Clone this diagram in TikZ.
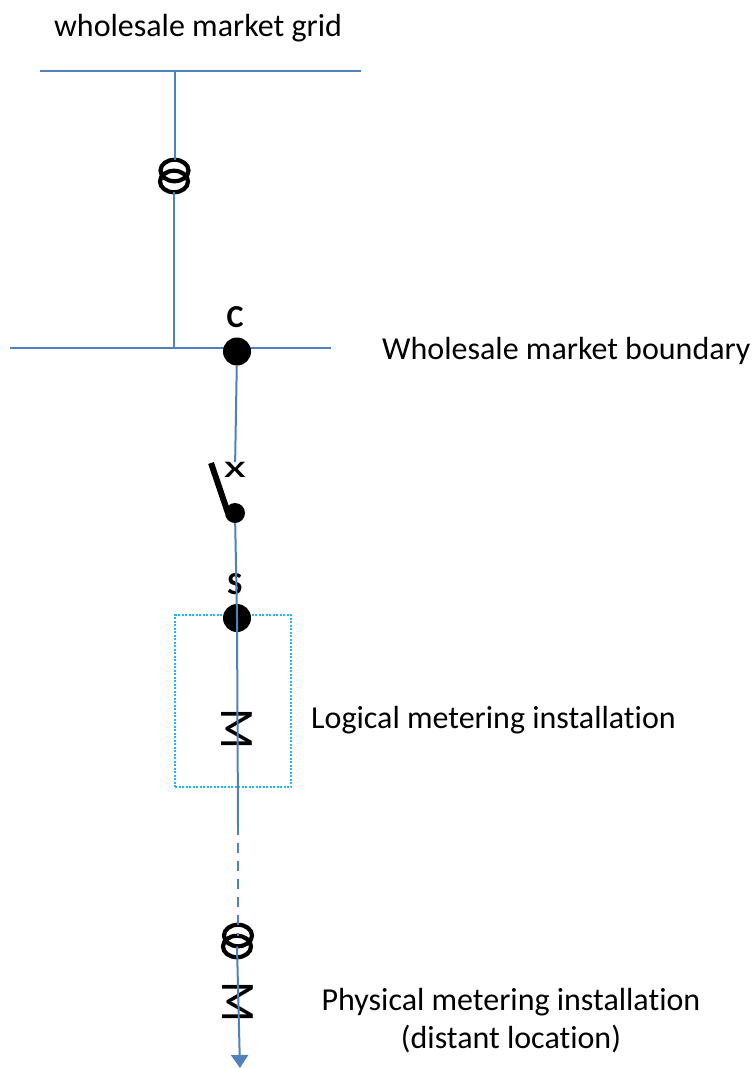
\documentclass[tikz,border=0pt]{standalone}
\usepackage{fontspec}
\setmainfont[Ligatures=NoCommon]{Carlito}
\usetikzlibrary{arrows.meta,shapes.geometric}
\definecolor{wire}{RGB}{79,129,189}
\definecolor{boxline}{RGB}{30,185,240}
\tikzset{
  wirestyle/.style={draw=wire, line width=2pt},
  winding/.style={ellipse, draw=black, line width=4.2pt, inner sep=0pt, outer sep=0pt,
    minimum width=28pt, minimum height=21.5pt},
  bigdot/.style={circle, fill=black, inner sep=0pt, outer sep=0pt},
  caption/.style={font=\fontsize{32}{38}\selectfont, inner sep=0pt},
  tag/.style={font=\fontsize{32}{36}\selectfont\bfseries, inner sep=0pt},
  meter/.style={font=\fontsize{48}{48}\selectfont, inner sep=0pt, rotate=-90}
}
\begin{document}
\begin{tikzpicture}[x=1pt,y=-1pt]
      \useasboundingbox (0,0) rectangle (754,1068);
      % texts
      \node (grid)[caption] at (198,28) {wholesale market grid};
      \node (boundary)[caption,anchor=west] at (382,351) {Wholesale market boundary};
      \node (logical)[caption,anchor=west] at (311,720) {Logical metering installation};
      \node (physical)[caption,align=center] at (511,1021) {Physical metering installation\\(distant location)};
      \node (tagC)[tag] at (235,317) {C};
      \node (tagS)[tag] at (235,584) {S};
      \node (tagX)[font=\fontsize{32}{32}\selectfont,inner sep=0pt,xscale=1.6,transform shape] at (235,470) {x};
      % free ends
      \coordinate (busAL) at (40,71);
      \coordinate (busAR) at (361,71);
      \coordinate (tapA) at (174.5,71);
      \coordinate (busBL) at (10,348);
      \coordinate (busBR) at (331,348);
      \coordinate (tapB) at (174,348);
      \coordinate (blade) at (211,463);
      \coordinate (bladeFoot) at (228,513);
      \coordinate (dashStart) at (238,825);
      \coordinate (lineEnd) at (240,1068);
      % logical box
      \node (box)[draw=boxline,dash pattern=on 2pt off 1.5pt,line width=1.1pt,minimum width=116pt,minimum height=172pt,inner sep=0pt] at (233,701) {};
      % busbars
      \path (busAL) edge[wirestyle] (busAR);
      \path (busBL) edge[wirestyle] (busBR);
      % symbols
      \begin{scope}
        \node (coilA)[winding] at (174.5,170.5) {};
        \node (coilB)[winding] at (174,181.5) {};
        \node (dotC)[bigdot,minimum size=28pt] at (237,351.5) {};
        \node (dotSw)[bigdot,minimum size=20pt] at (235,513) {};
        \node (dotS)[bigdot,minimum size=28pt] at (237,618) {};
        \node (meterA)[meter] at (237,729) {M};
        \node (coilC)[winding] at (238,935.5) {};
        \node (coilD)[winding] at (237,946.5) {};
        \node (meterB)[meter] at (238,1002) {M};
      \end{scope}
      \begin{scope}[every edge/.style={wirestyle}]
        \path (tapA) edge (coilA);
        \path (coilB) edge (tapB);
        \path (dotC) edge (tagX);
        \path (dotSw) edge (dotS.center);
        \path (dotS.center) edge (dashStart);
        \path (dashStart) edge[dash pattern=on 10pt off 8pt] (coilC.center);
        \path (coilD.center) edge[-{Triangle[width=17pt,length=13pt]}] (lineEnd);
      \end{scope}
      \draw[line width=6pt] (blade) -- (bladeFoot);
    \end{tikzpicture}
\end{document}
